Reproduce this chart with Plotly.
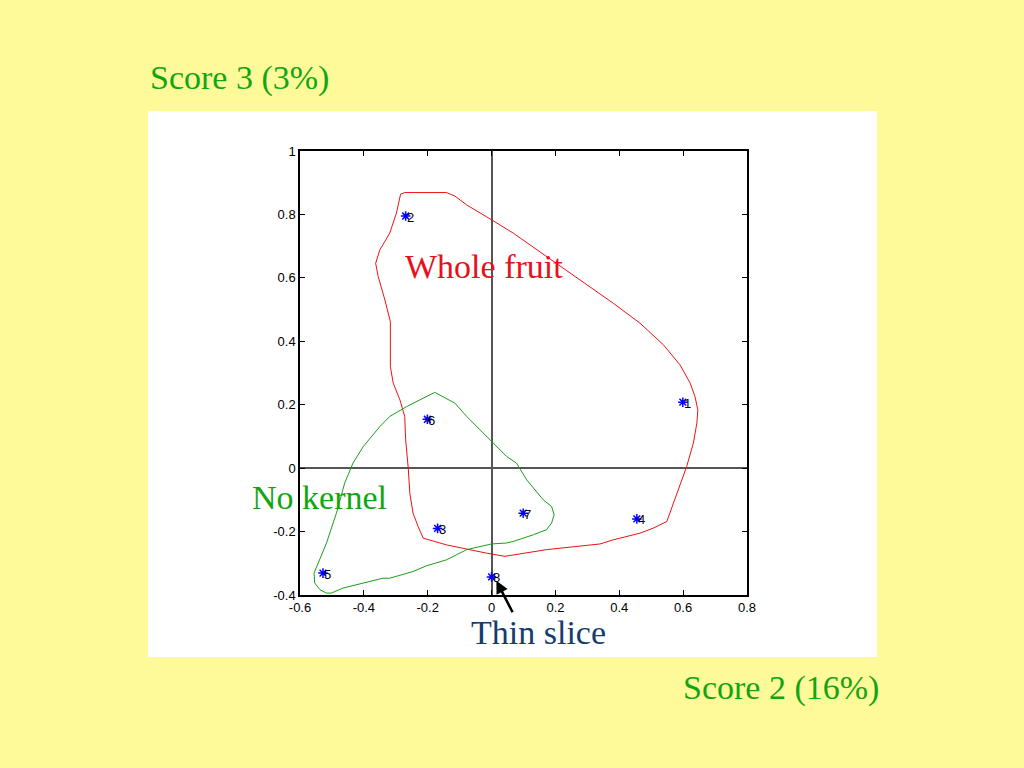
import plotly.graph_objects as go

# ---- data ----
point_labels = ["1", "2", "3", "4", "5", "6", "7", "8"]
score2 = [0.599, -0.269, -0.169, 0.455, -0.528, -0.201, 0.099, 0.000]
score3 = [0.208, 0.795, -0.190, -0.160, -0.331, 0.154, -0.142, -0.343]

whole_x = [-0.285, -0.272, -0.141, -0.115, -0.078, -0.037, 0.000, 0.068, 0.172, 0.277,
           0.381, 0.465, 0.538, 0.590, 0.622, 0.637, 0.646, 0.643, 0.632, 0.611,
           0.585, 0.549, 0.507, 0.465, 0.381, 0.340, 0.172, 0.068, 0.042, -0.016,
           -0.141, -0.214, -0.219, -0.230, -0.246, -0.256, -0.261, -0.269, -0.272, -0.287,
           -0.308, -0.317, -0.317, -0.334, -0.355, -0.363, -0.350, -0.319, -0.298, -0.285]
whole_y = [0.864, 0.869, 0.869, 0.858, 0.830, 0.806, 0.783, 0.741, 0.667, 0.593,
           0.520, 0.457, 0.389, 0.326, 0.268, 0.226, 0.184, 0.142, 0.079, 0.005,
           -0.068, -0.168, -0.189, -0.205, -0.226, -0.239, -0.257, -0.273, -0.278, -0.268,
           -0.242, -0.221, -0.210, -0.184, -0.142, -0.079, 0.000, 0.089, 0.163, 0.215,
           0.268, 0.320, 0.462, 0.530, 0.604, 0.646, 0.688, 0.741, 0.804, 0.864]

kernel_x = [-0.178, -0.115, -0.078, -0.037, 0.005, 0.047, 0.078, 0.110, 0.162, 0.188,
            0.196, 0.188, 0.172, 0.131, 0.068, 0.047, 0.000, -0.037, -0.078, -0.141,
            -0.172, -0.204, -0.246, -0.319, -0.340, -0.402, -0.465, -0.502, -0.517, -0.538,
            -0.554, -0.556, -0.538, -0.517, -0.486, -0.460, -0.434, -0.402, -0.350, -0.319,
            -0.266, -0.225, -0.178]
kernel_y = [0.239, 0.205, 0.163, 0.121, 0.079, 0.037, 0.016, -0.037, -0.100, -0.121,
            -0.147, -0.173, -0.194, -0.210, -0.231, -0.236, -0.239, -0.247, -0.257, -0.289,
            -0.299, -0.308, -0.326, -0.347, -0.347, -0.362, -0.378, -0.394, -0.394, -0.383,
            -0.362, -0.331, -0.289, -0.236, -0.142, -0.047, 0.016, 0.068, 0.131, 0.163,
            0.194, 0.215, 0.239]

x_ticks = [-0.6, -0.4, -0.2, 0, 0.2, 0.4, 0.6, 0.8]
x_ticktext = ["-0.6", "-0.4", "-0.2", "0", "0.2", "0.4", "0.6", "0.8"]
y_ticks = [-0.4, -0.2, 0, 0.2, 0.4, 0.6, 0.8, 1]
y_ticktext = ["-0.4", "-0.2", "0", "0.2", "0.4", "0.6", "0.8", "1"]

# ---- layout geometry (pixels) ----
W, H = 1024, 768
L, R, T, B = 300, 747, 151, 595


def px(xp):
    return (xp - L) / (R - L)


def py(yp):
    return (B - yp) / (B - T)


RED = "#EE1111"
GREEN = "#11A611"
SERIF = "Liberation Serif, Times New Roman, serif"
SANS = "Liberation Sans, Arial, sans-serif"

fig = go.Figure()
fig.add_trace(go.Scatter(x=whole_x, y=whole_y, mode="lines",
                         line=dict(color=RED, width=1), hoverinfo="skip"))
fig.add_trace(go.Scatter(x=kernel_x, y=kernel_y, mode="lines",
                         line=dict(color="#1A9E1A", width=1), hoverinfo="skip"))
fig.add_trace(go.Scatter(x=score2, y=score3, mode="markers",
                         marker=dict(symbol="asterisk-open", size=8,
                                     color="blue", line=dict(color="blue", width=1.5))))

for lab, xv, yv in zip(point_labels, score2, score3):
    fig.add_annotation(x=xv, y=yv, xref="x", yref="y", text=lab, showarrow=False,
                       xanchor="left", yanchor="middle", xshift=-1, yshift=-1,
                       font=dict(family=SANS, size=13, color="black"))

fig.add_shape(type="rect", xref="paper", yref="paper",
              x0=px(148), x1=px(877), y0=py(657), y1=py(111),
              fillcolor="white", line=dict(width=0), layer="below")

annos = [
    dict(text="Score 3 (3%)", x=px(148), y=py(78), xanchor="left", color=GREEN),
    dict(text="Score 2 (16%)", x=px(881), y=py(688), xanchor="right", color=GREEN),
    dict(text="Whole fruit", x=px(403), y=py(266), xanchor="left", color="#E8101A"),
    dict(text="No kernel", x=px(250), y=py(497), xanchor="left", color=GREEN),
    dict(text="Thin slice", x=px(469), y=py(632), xanchor="left", color="#143C6E"),
]
for a in annos:
    fig.add_annotation(text=a["text"], x=a["x"], y=a["y"], xref="paper", yref="paper",
                       xanchor=a["xanchor"], yanchor="middle", showarrow=False,
                       font=dict(family=SERIF, size=34, color=a["color"]))

fig.add_annotation(x=0.015, y=-0.355, xref="x", yref="y", text="", showarrow=True,
                   ax=17, ay=33, arrowhead=2, arrowsize=1, arrowwidth=2.5,
                   arrowcolor="black", standoff=0)

axis_common = dict(showgrid=False, showline=True, linecolor="black", linewidth=1.5,
                   mirror="ticks", ticks="inside", ticklen=5, tickcolor="black",
                   zeroline=True, zerolinecolor="#555555", zerolinewidth=1.5,
                   tickfont=dict(family=SANS, size=13, color="black"))

fig.update_layout(
    width=W, height=H, autosize=False,
    margin=dict(l=L, r=W - R, t=T, b=H - B),
    paper_bgcolor="#FFFA99", plot_bgcolor="white",
    showlegend=False,
    xaxis=dict(range=[-0.6, 0.8], tickvals=x_ticks, ticktext=x_ticktext, **axis_common),
    yaxis=dict(range=[-0.4, 1.0], tickvals=y_ticks, ticktext=y_ticktext, **axis_common),
)

fig.write_html("out.html", config={"displayModeBar": False},
               post_script="document.body.style.margin='0';document.body.style.background='#FFFA99';")
